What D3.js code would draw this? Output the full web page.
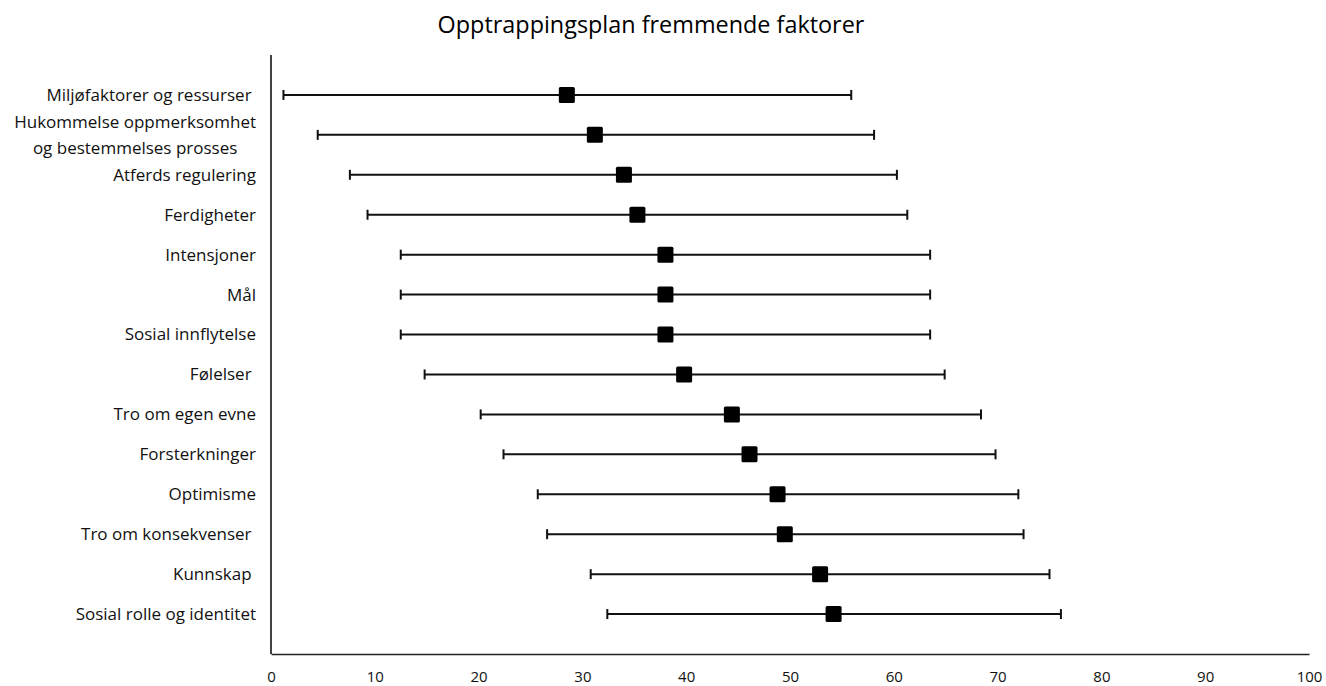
<!DOCTYPE html>
<html>
<head>
<meta charset="utf-8">
<script src="https://d3js.org/d3.v7.min.js"></script>
<style>
  html, body { margin: 0; padding: 0; background: #fff; }
  svg { font-family: 'Open Sans', 'Noto Sans', sans-serif; }
</style>
</head>
<body>
<div id="chart"></div>
<script>
// faktorer, ovenfra og ned
const factors = [
  'Miljøfaktorer og ressurser ',
  'Hukommelse oppmerksomhet\nog bestemmelses prosses',
  'Atferds regulering',
  'Ferdigheter',
  'Intensjoner',
  'Mål',
  'Sosial innflytelse',
  'Følelser ',
  'Tro om egen evne',
  'Forsterkninger',
  'Optimisme',
  'Tro om konsekvenser ',
  'Kunnskap ',
  'Sosial rolle og identitet'
]
const means = [28.5, 31.2, 34.0, 35.3, 38.0, 38.0, 38.0, 39.8, 44.4, 46.1, 48.8, 49.5, 52.9, 54.2]
const lower = [1.2, 4.5, 7.6, 9.3, 12.5, 12.5, 12.5, 14.8, 20.2, 22.4, 25.7, 26.6, 30.8, 32.4]
const upper = [55.9, 58.1, 60.3, 61.3, 63.5, 63.5, 63.5, 64.9, 68.4, 69.8, 72.0, 72.5, 75.0, 76.1]
const xTicks = [0, 10, 20, 30, 40, 50, 60, 70, 80, 90, 100]
const title = 'Opptrappingsplan fremmende faktorer'

const W = 1326, H = 686
const margin = {top: 55, right: 17, bottom: 32, left: 271}

const svg = d3.select('#chart').append('svg')
  .attr('width', W).attr('height', H)

const x = d3.scaleLinear().domain([0, 100]).range([margin.left, W - margin.right])
// rad 1..14, aksen går fra 0 til 15
const y = d3.scaleLinear().domain([0, factors.length + 1]).range([margin.top, H - margin.bottom])

const rows = factors.map((name, i) => ({name, i: i + 1, mean: means[i], lo: lower[i], hi: upper[i]}))

// tittel
svg.append('text')
  .attr('x', 651).attr('y', 33)
  .attr('text-anchor', 'middle')
  .attr('font-size', 23.4)
  .attr('fill', '#000')
  .text(title)

// akser
svg.append('line')
  .attr('x1', x(0)).attr('x2', x(0))
  .attr('y1', y(0)).attr('y2', y(factors.length + 1))
  .attr('stroke', '#222').attr('stroke-width', 1.7)

const xAxis = svg.append('g')
  .attr('transform', `translate(0,${y(factors.length + 1)})`)
  .call(d3.axisBottom(x).tickValues(xTicks).tickSize(0).tickPadding(17))
xAxis.select('.domain').attr('stroke', '#222').attr('stroke-width', 1.7)
xAxis.selectAll('text')
  .attr('font-size', 15)
  .attr('fill', '#111')
  .style('font-family', "'Open Sans', sans-serif")

// feilstolper
const bars = svg.append('g')
bars.selectAll('line.range')
  .data(rows).enter().append('line')
  .attr('class', 'range')
  .attr('x1', d => x(d.lo)).attr('x2', d => x(d.hi))
  .attr('y1', d => y(d.i)).attr('y2', d => y(d.i))
  .attr('stroke', '#111').attr('stroke-width', 2)

bars.selectAll('line.capLo')
  .data(rows).enter().append('line')
  .attr('class', 'capLo')
  .attr('x1', d => x(d.lo)).attr('x2', d => x(d.lo))
  .attr('y1', d => y(d.i) - 5).attr('y2', d => y(d.i) + 5)
  .attr('stroke', '#111').attr('stroke-width', 2)

bars.selectAll('line.capHi')
  .data(rows).enter().append('line')
  .attr('class', 'capHi')
  .attr('x1', d => x(d.hi)).attr('x2', d => x(d.hi))
  .attr('y1', d => y(d.i) - 5).attr('y2', d => y(d.i) + 5)
  .attr('stroke', '#111').attr('stroke-width', 2)

// gjennomsnitt
const sq = 16
bars.selectAll('rect.mean')
  .data(rows).enter().append('rect')
  .attr('class', 'mean')
  .attr('x', d => x(d.mean) - sq / 2)
  .attr('y', d => y(d.i) - sq / 2)
  .attr('width', sq).attr('height', sq)
  .attr('rx', 1.5)
  .attr('fill', '#000')

// kategorinavn
const labelRight = 256
const labels = svg.append('g')
labels.selectAll('text')
  .data(rows).enter().append('text')
  .attr('font-size', 17)
  .attr('fill', '#111')
  .style('white-space', 'pre')
  .each(function(d) {
    const el = d3.select(this)
    const lines = d.name.split('\n')
    const lh = 26
    lines.forEach((t, k) => {
      el.append('tspan')
        .attr('y', y(d.i) + (k - (lines.length - 1) / 2) * lh)
        .attr('dy', '0.35em')
        .text(t)
    })
    if (lines.length == 1) {
      el.attr('text-anchor', 'end').selectAll('tspan').attr('x', labelRight)
    } else {
      // flere linjer: sentrert under hverandre, høyrekant ved labelRight
      const widths = el.selectAll('tspan').nodes().map(n => n.getComputedTextLength())
      const cx = labelRight - d3.max(widths) / 2
      el.attr('text-anchor', 'middle').selectAll('tspan').attr('x', cx)
    }
  })
</script>
</body>
</html>
